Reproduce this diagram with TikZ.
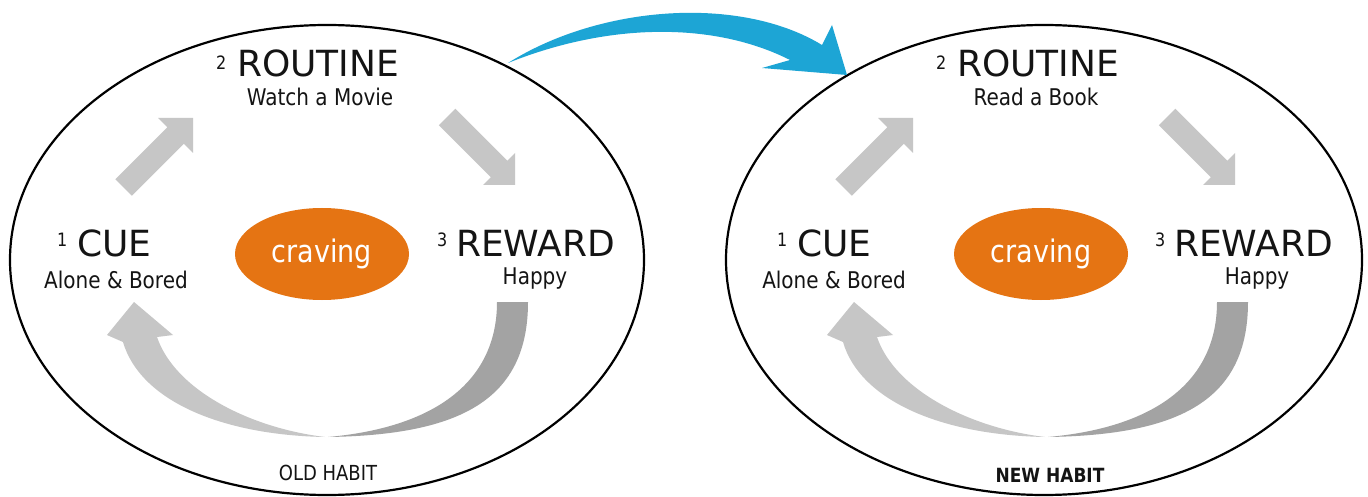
\documentclass[tikz,border=0pt]{standalone}
\usepackage{fontspec}
\setmainfont{DejaVu Sans}
\usetikzlibrary{shapes.geometric}
\definecolor{txt}{RGB}{20,20,20}
\definecolor{lightarr}{RGB}{198,198,198}
\definecolor{darkarr}{RGB}{163,163,163}
\definecolor{orng}{RGB}{229,116,19}
\definecolor{blu}{RGB}{29,165,213}
\newcommand{\tallx}[1]{\scalebox{1}[1.15]{#1}}
\tikzset{
  big/.style={font=\fontsize{36}{40}\selectfont, text=txt, inner sep=0pt, anchor=base west},
  num/.style={font=\fontsize{16}{18}\selectfont, text=txt, inner sep=0pt, anchor=base west},
  sub/.style={font=\fontsize{20}{24}\selectfont, text=txt, inner sep=0pt, anchor=base},
  habit/.style={font=\fontsize{18}{22}\selectfont, text=txt, inner sep=0pt, anchor=base},
  crav/.style={ellipse, fill=orng, minimum width=174pt, minimum height=92pt, inner sep=0pt,
     text=white, font=\fontsize{27}{30}\selectfont},
  frame/.style={ellipse, draw=black, line width=2.2pt, inner sep=0pt},
  garr/.style={fill=lightarr},
  darr/.style={fill=darkarr}
}
\begin{document}
\begin{tikzpicture}[x=1pt,y=-1pt]
\useasboundingbox (0,0) rectangle (1368,497);
\fill[white] (0,0) rectangle (1368,497);

% outer ellipses
\node[frame, minimum width=634pt, minimum height=470pt] (Lframe) at (327,260) {};
\node[frame, minimum width=636pt, minimum height=470pt] (Rframe) at (1044,260) {};

% blue transition arrow
\fill[blu] (508,63) .. controls (600,5) and (740,-5) .. (822,45)
  -- (832,25) -- (847,75) -- (762,68) -- (790,60)
  .. controls (715,22) and (610,22) .. (508,63) -- cycle;

% ---------- cycle content ----------
\foreach \dx in {0, 720}{
\begin{scope}[xshift=\dx]
  % up-right arrow
  \fill[garr] (115.25,179.25) -- (167.25,127.25) -- (158,118) -- (193,118)
     -- (193,153) -- (183.75,143.75) -- (131.75,195.75) -- cycle;
  % down-right arrow
  \fill[garr] (455.25,108.75) -- (507.25,160.75) -- (515,153) -- (515,185)
     -- (483,185) -- (490.75,177.25) -- (438.75,125.25) -- cycle;
  % dark return arc
  \fill[darr] (528,302) .. controls (528,400) and (460,435) .. (328,437)
     .. controls (430,428) and (497,385) .. (497,302) -- cycle;
  % light return arc with head
  \fill[garr] (325,437) .. controls (220,435) and (140,400) .. (123,342)
     -- (107,335) -- (134,302) -- (173,335) -- (157,337)
     .. controls (175,390) and (250,428) .. (325,437) -- cycle;
\end{scope}
}

% ---------- left texts ----------
\node[num] (Ln2) at (216,70) {\tallx{2}};
\node[big] (Lroutine) at (237,77) {ROUTINE};
\node[sub] (Lwatch) at (320,106) {\tallx{Watch a Movie}};
\node[num] (Ln1) at (57,247) {\tallx{1}};
\node[big] (Lcue) at (77,257) {CUE};
\node[sub] (Lalone) at (116,288) {\tallx{Alone \& Bored}};
\node[num] (Ln3) at (437,247) {\tallx{3}};
\node[big] (Lreward) at (456,257) {REWARD};
\node[sub] (Lhappy) at (535,284) {\tallx{Happy}};
\node[crav] (Lcrav) at (322,254) {\tallx{craving}};
\node[habit] (Lhabit) at (328,480) {\tallx{OLD HABIT}};

% ---------- right texts ----------
\node[num] (Rn2) at (936,70) {\tallx{2}};
\node[big] (Rroutine) at (957,77) {ROUTINE};
\node[sub] (Rread) at (1036,106) {\tallx{Read a Book}};
\node[num] (Rn1) at (777,247) {\tallx{1}};
\node[big] (Rcue) at (797,257) {CUE};
\node[sub] (Ralone) at (834,288) {\tallx{Alone \& Bored}};
\node[num] (Rn3) at (1155,247) {\tallx{3}};
\node[big] (Rreward) at (1174,257) {REWARD};
\node[sub] (Rhappy) at (1257,284) {\tallx{Happy}};
\node[crav] (Rcrav) at (1041,254) {\tallx{craving}};
\node[habit, font=\fontsize{17}{22}\selectfont\bfseries] (Rhabit) at (1050,482) {\tallx{NEW HABIT}};
\end{tikzpicture}
\end{document}
